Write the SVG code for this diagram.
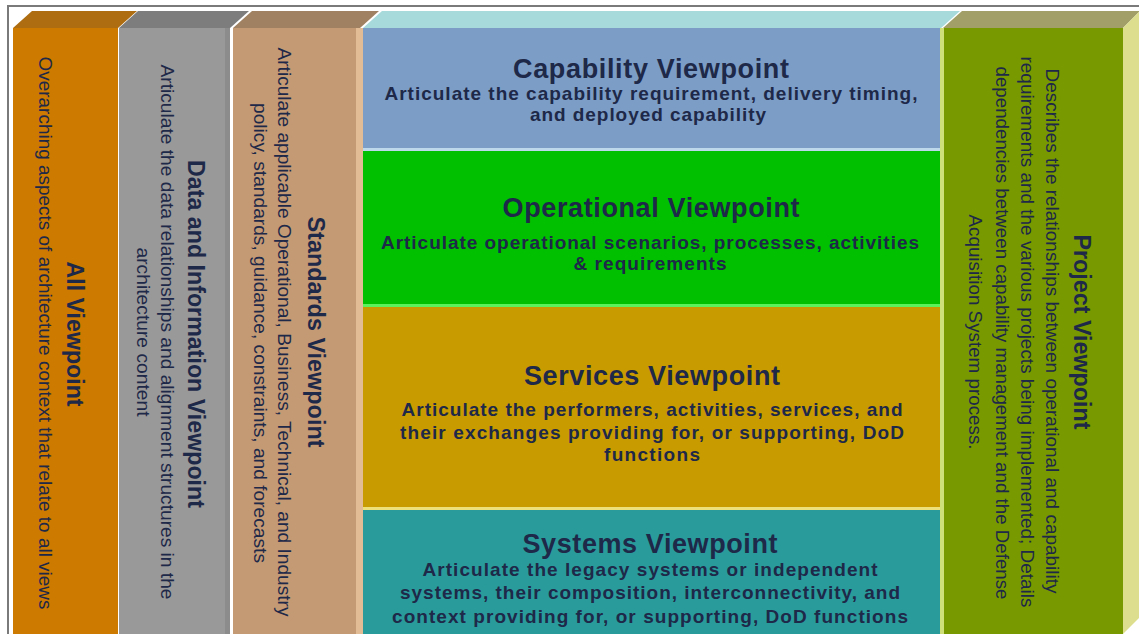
<svg xmlns="http://www.w3.org/2000/svg" width="1139" height="634" viewBox="0 0 1139 634">
<style>
.t{font-family:"Liberation Sans",Arial,sans-serif;fill:#1E2848;text-anchor:middle}
.vt{font-size:24px;font-weight:bold}
.vd{font-size:19px}
.mt{font-size:27px;font-weight:bold}
.md{font-size:19px;font-weight:bold}
</style>
<rect width="1139" height="634" fill="#ffffff"/>
<path d="M8 634 V6 H1139" fill="none" stroke="#7a7a7a" stroke-width="2"/>

<g id="all-viewpoint">
<polygon points="13,28 32,11 137,11 118,28" fill="#AD6D10"/>
<rect x="13" y="28" width="105" height="606" fill="#CC7A00"/>
<text class="t vt" transform="translate(67,334) rotate(90)" textLength="145" lengthAdjust="spacingAndGlyphs">All Viewpoint</text>
<text class="t vd" transform="translate(39,333) rotate(90)" textLength="553" lengthAdjust="spacingAndGlyphs">Overarching aspects of architecture context that relate to all views</text>
</g>

<g id="data-information-viewpoint">
<polygon points="119,28 138,11 249,11 230,28" fill="#7D7D7D"/>
<rect x="119" y="28" width="111" height="606" fill="#999999"/>
<rect x="225" y="28" width="5" height="606" fill="#8C8C8C"/>
<text class="t vt" transform="translate(188,334) rotate(90)" textLength="348" lengthAdjust="spacingAndGlyphs">Data and Information Viewpoint</text>
<text class="t vd" transform="translate(161,332) rotate(90)" textLength="535" lengthAdjust="spacingAndGlyphs">Articulate the data relationships and alignment structures in the</text>
<text class="t vd" transform="translate(137,332) rotate(90)" textLength="169" lengthAdjust="spacingAndGlyphs">architecture content</text>
</g>

<g id="standards-viewpoint">
<polygon points="233,28 252,11 379,11 360,28" fill="#A08262"/>
<rect x="233" y="28" width="127" height="606" fill="#C49A74"/>
<rect x="356" y="28" width="7" height="606" fill="#E2BC94"/>
<text class="t vt" transform="translate(308,332) rotate(90)" textLength="231" lengthAdjust="spacingAndGlyphs">Standards Viewpoint</text>
<text class="t vd" transform="translate(278,332) rotate(90)" textLength="569" lengthAdjust="spacingAndGlyphs">Articulate applicable Operational, Business, Technical, and Industry</text>
<text class="t vd" transform="translate(254,333) rotate(90)" textLength="460" lengthAdjust="spacingAndGlyphs">policy, standards, guidance, constraints, and forecasts</text>
</g>

<polygon id="middle-top" points="363,28 382,11 960,11 941,28" fill="#A6DADB"/>

<g id="capability-viewpoint">
<rect x="363" y="28" width="577" height="120" fill="#7B9DC6"/>
<rect x="363" y="148" width="577" height="3" fill="#BCD8EA"/>
<text class="t mt" x="651" y="78" textLength="276">Capability Viewpoint</text>
<text class="t md" x="651" y="100" textLength="533">Articulate the capability requirement, delivery timing,</text>
<text class="t md" x="648" y="121" textLength="236">and deployed capability</text>
</g>

<g id="operational-viewpoint">
<rect x="363" y="151" width="577" height="153" fill="#00C000"/>
<rect x="363" y="304" width="577" height="3" fill="#5CF25C"/>
<text class="t mt" x="651" y="217" textLength="297">Operational Viewpoint</text>
<text class="t md" x="650" y="249" textLength="538">Articulate operational scenarios, processes, activities</text>
<text class="t md" x="650" y="270" textLength="153">&amp; requirements</text>
</g>

<g id="services-viewpoint">
<rect x="363" y="307" width="577" height="200" fill="#C89B00"/>
<rect x="363" y="507" width="577" height="3" fill="#EDE07A"/>
<text class="t mt" x="652" y="385" textLength="256">Services Viewpoint</text>
<text class="t md" x="652" y="416" textLength="501">Articulate the performers, activities, services, and</text>
<text class="t md" x="652" y="439" textLength="504">their exchanges providing for, or supporting, DoD</text>
<text class="t md" x="652" y="461" textLength="96">functions</text>
</g>

<g id="systems-viewpoint">
<rect x="363" y="510" width="577" height="124" fill="#2A9B9B"/>
<text class="t mt" x="650" y="553" textLength="255">Systems Viewpoint</text>
<text class="t md" x="650" y="576" textLength="455">Articulate the legacy systems or independent</text>
<text class="t md" x="650" y="599" textLength="500">systems, their composition, interconnectivity, and</text>
<text class="t md" x="650" y="623" textLength="516">context providing for, or supporting, DoD functions</text>
</g>

<g id="project-viewpoint">
<polygon points="943,28 962,11 1140,11 1123,28" fill="#A2A068"/>
<polygon points="1123,28 1140,11 1140,617 1123,634" fill="#DEDF8E"/>
<rect x="940" y="28" width="4" height="606" fill="#CFE07A"/>
<rect x="944" y="28" width="179" height="606" fill="#789A00"/>
<text class="t vt" transform="translate(1074,332) rotate(90)" textLength="195" lengthAdjust="spacingAndGlyphs">Project Viewpoint</text>
<text class="t vd" transform="translate(1046,331) rotate(90)" textLength="525" lengthAdjust="spacingAndGlyphs">Describes the relationships between operational and capability</text>
<text class="t vd" transform="translate(1021,332) rotate(90)" textLength="551" lengthAdjust="spacingAndGlyphs">requirements and the various projects being implemented; Details</text>
<text class="t vd" transform="translate(996,333) rotate(90)" textLength="533" lengthAdjust="spacingAndGlyphs">dependencies between capability management and the Defense</text>
<text class="t vd" transform="translate(969,332) rotate(90)" textLength="235" lengthAdjust="spacingAndGlyphs">Acquisition System process.</text>
</g>
</svg>
